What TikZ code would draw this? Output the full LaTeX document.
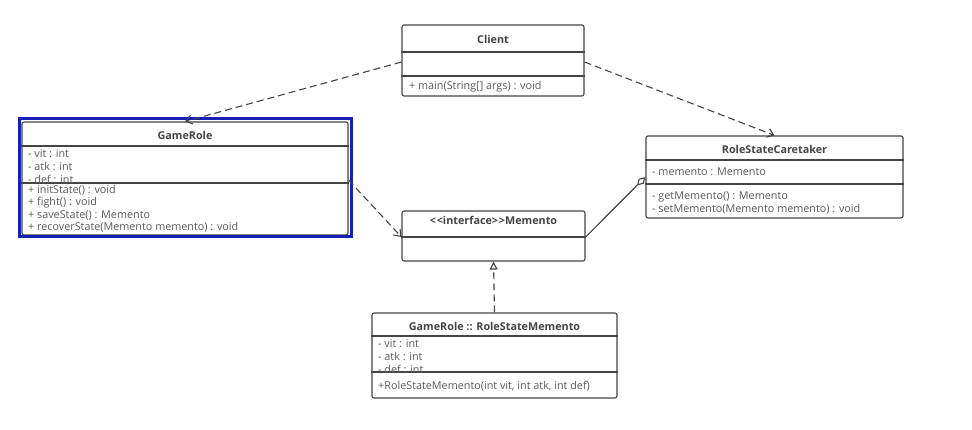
\documentclass[tikz,border=0pt]{standalone}
\usepackage{fontspec}
\setmainfont{Open Sans}
\usetikzlibrary{arrows.meta}
\definecolor{edge}{HTML}{444444}
\definecolor{txt}{HTML}{5A5A5A}
\definecolor{sel}{HTML}{1420B8}
\begin{document}
\begin{tikzpicture}[x=1pt,y=-1pt,
  classbox/.style={draw=edge,line width=1.1pt,rounded corners=2pt,fill=white,inner sep=0pt},
  divider/.style={draw=edge,line width=1.1pt},
  title/.style={font=\fontsize{10.8}{12}\selectfont\bfseries,text=edge,inner sep=0pt},
  member/.style={font=\fontsize{10.8}{12}\selectfont,text=txt,inner sep=0pt,anchor=west},
  dep/.style={draw=edge,line width=1.1pt,dash pattern=on 7pt off 4pt,-{Straight Barb[length=6pt,width=9pt]}},
  real/.style={draw=edge,line width=1.1pt,dash pattern=on 7pt off 4pt,-{Triangle[open,length=8pt,width=8pt,fill=white]}},
  aggr/.style={draw=edge,line width=1.1pt,{Diamond[open,length=12pt,width=7pt,fill=white]}-}]
\useasboundingbox (0,0) rectangle (972,430);
\fill[white] (0,0) rectangle (972,430);

% Client
\node[classbox,minimum width=182pt,minimum height=71pt] (client) at (493,60.5) {};
\draw[divider] (client.west |- 0,52) -- (client.east |- 0,52);
\draw[divider] (client.west |- 0,76) -- (client.east |- 0,76);
\node[title] (clientT) at (493,39) {Client};
\node[member] (clientM) at (409,87) {+ main(String[] args) : void};

% GameRole
\node[classbox,minimum width=326pt,minimum height=113pt] (role) at (185,178.5) {};
\draw[divider] (role.west |- 0,146) -- (role.east |- 0,146);
\draw[divider] (role.west |- 0,183) -- (role.east |- 0,183);
\node[title] (roleT) at (185,135) {GameRole};
\node[member] (roleA1) at (28,154) {- vit : int};
\node[member] (roleA2) at (28,166.5) {- atk : int};
\node[member] (roleA3) at (28,179) {- def : int};
\node[member] (roleM1) at (28,190) {+ initState() : void};
\node[member] (roleM2) at (28,202.5) {+ fight() : void};
\node[member] (roleM3) at (28,215) {+ saveState() : Memento};
\node[member] (roleM4) at (28,227.5) {+ recoverState(Memento memento) : void};
\draw[sel,line width=3pt] (19,119) rectangle (351,237);

% RoleStateCaretaker
\node[classbox,minimum width=257pt,minimum height=82pt] (care) at (774.5,177) {};
\draw[divider] (care.west |- 0,160) -- (care.east |- 0,160);
\draw[divider] (care.west |- 0,184) -- (care.east |- 0,184);
\node[title] (careT) at (774.5,149) {RoleStateCaretaker};
\node[member] (careA1) at (652,172) {- memento : Memento};
\node[member] (careM1) at (652,197) {- getMemento() : Memento};
\node[member] (careM2) at (652,209.5) {- setMemento(Memento memento) : void};

% Memento interface
\node[classbox,minimum width=183pt,minimum height=50pt] (memento) at (493.5,236) {};
\draw[divider] (memento.west |- 0,237) -- (memento.east |- 0,237);
\node[title] (mementoT) at (493.5,220) {<\kern0.8pt<interface>\kern0.8pt>Memento};

% GameRole :: RoleStateMemento
\node[classbox,minimum width=245pt,minimum height=85pt] (rsm) at (494.5,355.5) {};
\draw[divider] (rsm.west |- 0,336) -- (rsm.east |- 0,336);
\draw[divider] (rsm.west |- 0,372) -- (rsm.east |- 0,372);
\node[title] (rsmT) at (494.5,326) {GameRole :: RoleStateMemento};
\node[member] (rsmA1) at (378,344) {- vit : int};
\node[member] (rsmA2) at (378,356.5) {- atk : int};
\node[member] (rsmA3) at (378,369) {- def : int};
\node[member] (rsmM1) at (378,386) {+RoleStateMemento(int vit, int atk, int def)};

% Relationships
\draw[dep] (client.west |- 0,62) -- (role.north);
\draw[dep] (client.east |- 0,62) -- (care.north);
\draw[dep] (role.east |- 0,180) -- (memento.west |- 0,237);
\draw[aggr] (care.west |- 0,177) -- (memento.east |- 0,237);
\draw[real] (rsm.north) -- (memento.south);
\end{tikzpicture}
\end{document}
